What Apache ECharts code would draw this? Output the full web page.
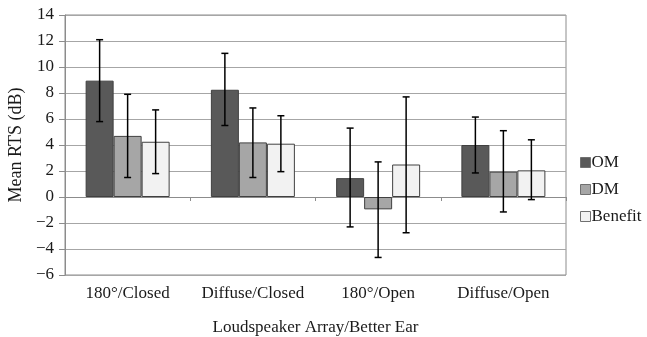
<!DOCTYPE html>
<html><head><meta charset="utf-8">
<script src="https://cdn.jsdelivr.net/npm/echarts@6/dist/echarts.min.js"></script>
<style>html,body{margin:0;padding:0;background:#fff}#c{width:647px;height:337px}</style>
</head><body><div id="c"></div>
<script>
var categories = ['180°/Closed', 'Diffuse/Closed', '180°/Open', 'Diffuse/Open'];
var seriesNames = ['OM', 'DM', 'Benefit'];
var omValues = [8.95, 8.25, 1.45, 4.0];
var omLow = [5.8, 5.5, -2.3, 1.85];
var omHigh = [12.1, 11.05, 5.3, 6.15];
var dmValues = [4.7, 4.2, -0.95, 1.95];
var dmLow = [1.5, 1.5, -4.65, -1.15];
var dmHigh = [7.9, 6.85, 2.7, 5.1];
var benefitValues = [4.25, 4.1, 2.5, 2.05];
var benefitLow = [1.8, 1.95, -2.75, -0.2];
var benefitHigh = [6.7, 6.25, 7.7, 4.4];
var yTicks = {min: -6, max: 14, interval: 2};

var vals = [omValues, dmValues, benefitValues];
var lows = [omLow, dmLow, benefitLow];
var highs = [omHigh, dmHigh, benefitHigh];
var colors = ['#595959', '#a6a6a6', '#f2f2f2'];
var font = 'Liberation Serif';
var BAR_W = 28;

var series = [];
seriesNames.forEach(function (name, i) {
  series.push({
    name: name, type: 'bar', data: vals[i], barWidth: BAR_W, barGap: '0%',
    itemStyle: {color: colors[i], borderColor: '#404040', borderWidth: 1},
    emphasis: {disabled: true}
  });
});
seriesNames.forEach(function (name, i) {
  var d = categories.map(function (c, k) { return [k, lows[i][k], highs[i][k]]; });
  series.push({
    type: 'custom', data: d, z: 10, silent: true,
    renderItem: function (params, api) {
      var k = api.value(0);
      var lo = api.coord([k, api.value(1)]);
      var hi = api.coord([k, api.value(2)]);
      var x = lo[0] + (i - 1) * BAR_W;
      var cap = 3.5;
      var st = {stroke: '#000', lineWidth: 1.5};
      return {type: 'group', children: [
        {type: 'line', shape: {x1: x, y1: hi[1], x2: x, y2: lo[1]}, style: st},
        {type: 'line', shape: {x1: x - cap, y1: hi[1], x2: x + cap, y2: hi[1]}, style: st},
        {type: 'line', shape: {x1: x - cap, y1: lo[1], x2: x + cap, y2: lo[1]}, style: st}
      ]};
    }
  });
});

var chart = echarts.init(document.getElementById('c'));
chart.setOption({
  animation: false,
  backgroundColor: '#fff',
  textStyle: {fontFamily: font},
  grid: {left: 65, right: 81, top: 15, bottom: 62, show: true, borderColor: '#8c8c8c', borderWidth: 1,
    containLabel: false, outerBoundsMode: 'none'},
  legend: {
    data: seriesNames, orient: 'vertical', left: 575, top: 149,
    itemWidth: 10, itemHeight: 10, itemGap: 10, icon: 'rect',
    itemStyle: {borderColor: '#707070', borderWidth: 1},
    textStyle: {fontFamily: font, fontSize: 17, color: '#1a1a1a', padding: [0, 0, 0, -4]}
  },
  xAxis: [{
    type: 'category', data: categories,
    name: 'Loudspeaker Array/Better Ear', nameLocation: 'middle', nameGap: 44,
    nameTextStyle: {fontFamily: font, fontSize: 17, color: '#1a1a1a'},
    axisLine: {onZero: false, show: false}, axisTick: {show: false},
    axisLabel: {fontFamily: font, fontSize: 17, color: '#1a1a1a', margin: 10, interval: 0}
  }, {
    type: 'category', data: categories, position: 'bottom',
    axisLine: {onZero: true, show: true, lineStyle: {color: '#8c8c8c', width: 1}},
    axisTick: {show: true, length: 4, lineStyle: {color: '#8c8c8c'}},
    axisLabel: {show: false}
  }],
  yAxis: {
    type: 'value', min: yTicks.min, max: yTicks.max, interval: yTicks.interval,
    name: 'Mean RTS (dB)', nameLocation: 'middle', nameGap: 36,
    nameTextStyle: {fontFamily: font, fontSize: 18, color: '#1a1a1a'},
    axisLine: {show: true, lineStyle: {color: '#8c8c8c'}},
    axisTick: {show: true, length: 6, lineStyle: {color: '#8c8c8c'}},
    axisLabel: {fontFamily: font, fontSize: 17, color: '#1a1a1a', margin: 11,
      formatter: function (v) { return String(v).replace('-', '\u2212'); }},
    splitLine: {show: true, lineStyle: {color: '#a6a6a6', width: 1}}
  },
  series: series
});
</script></body></html>
